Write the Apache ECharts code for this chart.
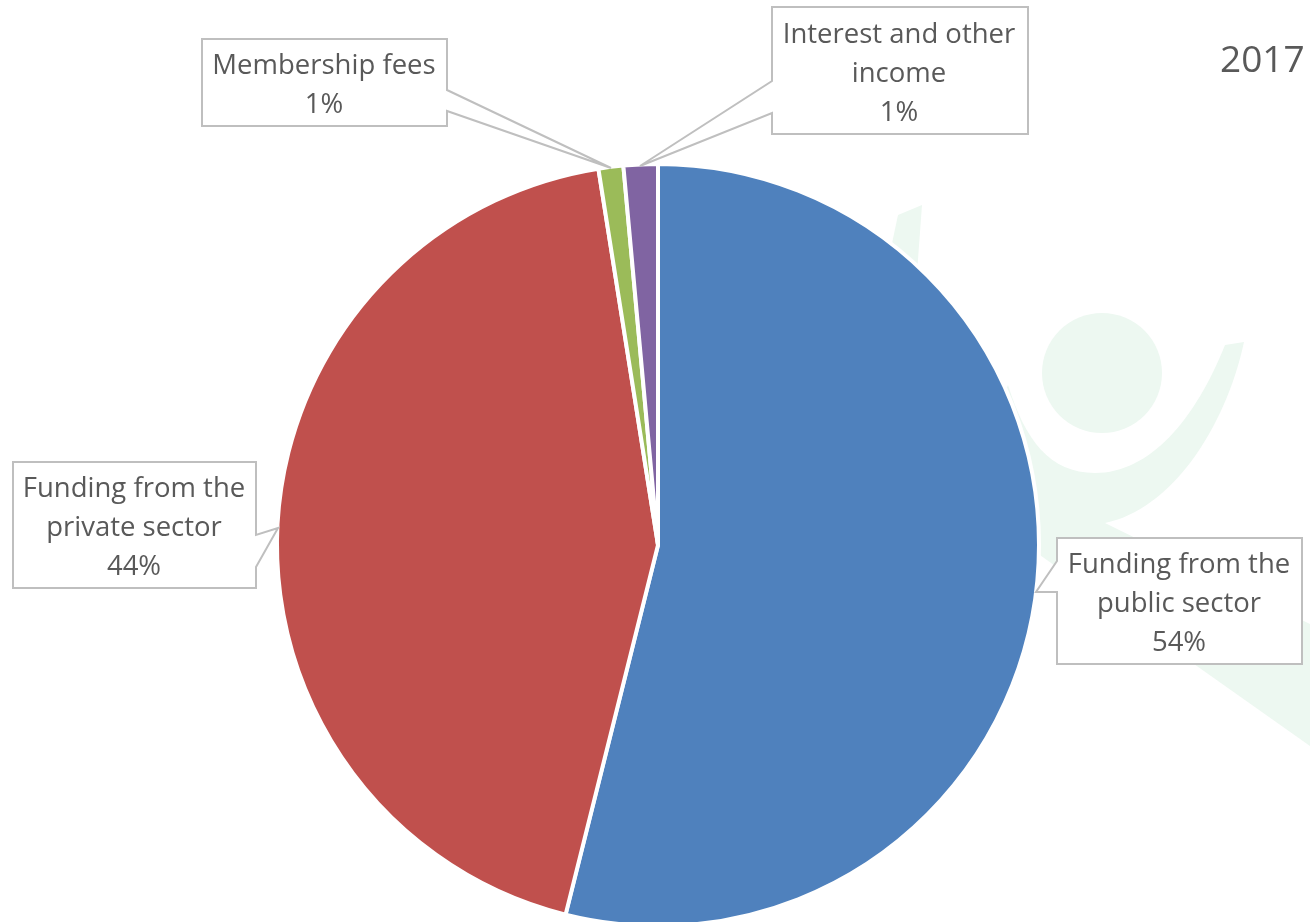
<!DOCTYPE html>
<html>
<head>
<meta charset="utf-8">
<style>html,body{margin:0;padding:0;background:#fff}#c{width:1310px;height:922px}</style>
<script src="https://cdn.jsdelivr.net/npm/echarts@6/dist/echarts.min.js"></script>
</head>
<body>
<div id="c"></div>
<script>
const categories = ['Funding from the\npublic sector','Funding from the\nprivate sector','Membership fees','Interest and other\nincome'];
const shares = [53.9, 43.6, 1.05, 1.45];
const sliceColors = ['#4F81BD','#C0504D','#9BBB59','#8064A2'];
const yearLabel = '2017';

const labelCentres = [[1179,604],[134,528],[324,86],[899,74]];
const callouts = [
  [[1057,538],[1302,538],[1302,664],[1057,664],[1057,592],[1036,592],[1057,561]],
  [[13,462],[256,462],[256,535],[278,528],[256,567],[256,588],[13,588]],
  [[202,39],[447,39],[447,90],[611,168],[447,111],[447,126],[202,126]],
  [[772,7],[1028,7],[1028,134],[772,134],[772,113],[640,166],[772,81]]
];
const wash = '#EDF8F1';
echarts.graphic.registerShape('washBody', echarts.graphic.extendPath('M1225 345 C1195 420 1150 473 1095 473 C1050 473 1025 440 1008 385 L960 500 L1037 553 L1310 746 L1310 624 L1105 523 C1170 510 1225 430 1244 342 Z', {}));
const graphics = [
  {type:'circle',z:0,shape:{cx:1102,cy:373,r:60},style:{fill:wash}},
  {type:'washBody',z:0,style:{fill:wash}},
  {type:'polygon',z:0,shape:{points:[[898,215],[922,205],[915,300],[880,300]]},style:{fill:wash}}
].concat(callouts.map(p=>({type:'polygon',z:1,shape:{points:p},style:{fill:'#fff'}})))
 .concat(callouts.map(p=>({type:'polygon',z:3,shape:{points:p},style:{fill:'none',stroke:'#BFBFBF',lineWidth:2}})));

const chart = echarts.init(document.getElementById('c'),null,{renderer:'canvas'});
chart.setOption({
  animation:false,
  backgroundColor:'#fff',
  title:{text:yearLabel,left:1215,top:38,textStyle:{fontFamily:'Open Sans',fontSize:37,fontWeight:'normal',color:'#595959'}},
  graphic:{elements:graphics},
  series:[{
    type:'pie',
    z:2,
    center:[658,545],
    radius:[0,381],
    startAngle:90,
    clockwise:true,
    silent:true,
    percentPrecision:0,
    avoidLabelOverlap:false,
    itemStyle:{borderColor:'#fff',borderWidth:4},
    label:{show:true,position:'outside',formatter:'{b}\n{d}%',fontFamily:'Open Sans',fontSize:27.5,lineHeight:39,color:'#595959',align:'center',verticalAlign:'middle'},
    labelLine:{show:false},
    labelLayout:p=>({x:labelCentres[p.dataIndex][0],y:labelCentres[p.dataIndex][1],align:'center',verticalAlign:'middle'}),
    data:categories.map((n,i)=>({name:n,value:shares[i],itemStyle:{color:sliceColors[i]}}))
  }]
});
</script>
</body>
</html>
